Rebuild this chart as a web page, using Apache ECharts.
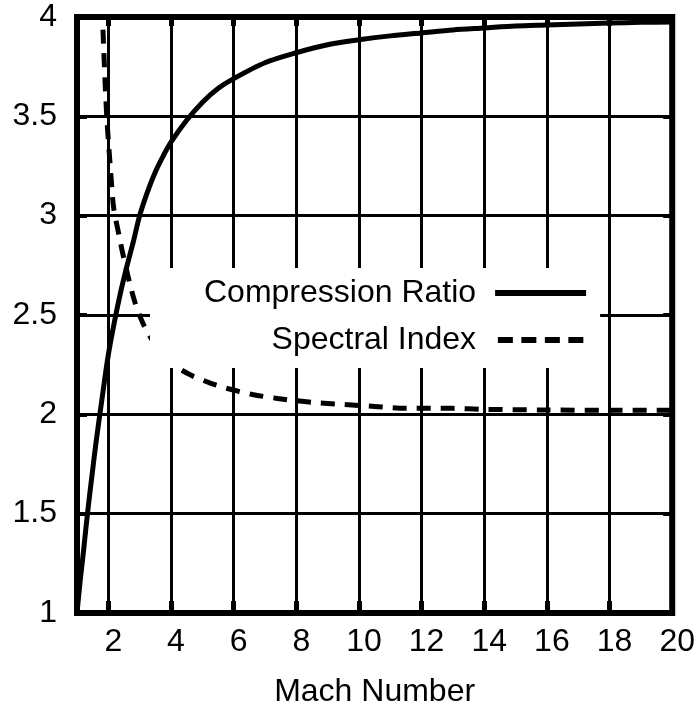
<!DOCTYPE html>
<html>
<head>
<meta charset="utf-8">
<style>
    html, body { margin: 0; padding: 0; background: #fff; }
    #chart { width: 698px; height: 713px; }
</style>
<script src="https://cdn.jsdelivr.net/npm/echarts@6/dist/echarts.min.js"></script>
</head>
<body>
<div id="chart"></div>
<script>
    // Compression ratio (solid)
    var machRatio = [1, 1.1, 1.2, 1.3, 1.4, 1.5, 1.6, 1.8, 2, 2.2, 2.4, 2.6, 2.8, 3, 3.25, 3.5, 3.75, 4, 4.5, 5, 5.5, 6, 7, 8, 9, 10, 11, 12, 13, 14, 15, 16, 17, 18, 19, 20];
    var ratioValues = [1.0, 1.16, 1.30, 1.45, 1.59, 1.72, 1.85, 2.08, 2.30, 2.47, 2.62, 2.75, 2.87, 3.0, 3.12, 3.22, 3.30, 3.37, 3.48, 3.57, 3.64, 3.69, 3.77, 3.82, 3.86, 3.885, 3.905, 3.92, 3.935, 3.945, 3.955, 3.96, 3.965, 3.97, 3.973, 3.975];

    // Spectral index (dashed)
    var machIndex = [1.75, 1.85, 1.95, 2.08, 2.17, 2.33, 2.46, 2.8, 3.1, 3.5, 4, 4.6, 5.3, 5.8, 6.6, 7.4, 8.5, 9.5, 10.5, 11.5, 13, 14, 16, 18, 20];
    var indexValues = [4.3, 3.85, 3.5, 3.21, 3.04, 2.91, 2.81, 2.59, 2.46, 2.35, 2.26, 2.20, 2.155, 2.13, 2.10, 2.08, 2.06, 2.05, 2.04, 2.03, 2.03, 2.025, 2.022, 2.02, 2.02];

    var xTicks = [2, 4, 6, 8, 10, 12, 14, 16, 18, 20];
    var seriesNames = ['Compression Ratio', 'Spectral Index'];

    function pairs(xs, ys) {
        var out = [];
        for (var i = 0; i < xs.length; i++) {
            out.push([xs[i], ys[i]]);
        }
        return out;
    }

    var font = 'Liberation Sans, Arial, sans-serif';
    var labelStyle = { color: '#000', fontSize: 32, fontFamily: font };

    var myChart = echarts.init(document.getElementById('chart'), null, { renderer: 'canvas' });

    myChart.setOption({
        animation: false,
        backgroundColor: '#fff',
        grid: {
            left: 77,
            right: 23,
            top: 17,
            bottom: 95,
            show: true,
            borderColor: '#000',
            borderWidth: 6,
            backgroundColor: 'transparent'
        },
        legend: {
            orient: 'vertical',
            align: 'right',
            left: 150,
            top: 268,
            padding: [9, 14, 12, 54],
            itemGap: 15,
            itemWidth: 91,
            itemHeight: 6,
            backgroundColor: '#fff',
            selectedMode: false,
            textStyle: {
                color: '#000',
                fontSize: 32,
                fontFamily: font,
                padding: [0, 14, 0, 0]
            },
            data: [
                { name: seriesNames[0], icon: 'rect' },
                { name: seriesNames[1], icon: 'path://M0 0h15v6h-15z M23.5 0h15v6h-15z M47 0h15v6h-15z M70.5 0h15v6h-15z' }
            ]
        },
        xAxis: [
            {
                type: 'value',
                min: 1,
                max: 20,
                name: 'Mach Number',
                nameLocation: 'middle',
                nameGap: 63,
                nameTextStyle: labelStyle,
                axisLine: { show: false },
                axisTick: {
                    show: true,
                    inside: true,
                    length: 12,
                    customValues: xTicks,
                    lineStyle: { color: '#000', width: 5 }
                },
                axisLabel: {
                    customValues: xTicks,
                    margin: 13,
                    padding: [0, 0, 0, 10],
                    color: '#000',
                    fontSize: 32,
                    fontFamily: font
                },
                splitLine: { show: true, lineStyle: { color: '#000', width: 3 } }
            },
            {
                type: 'value',
                position: 'top',
                min: 1,
                max: 20,
                axisLine: { show: false },
                axisLabel: { show: false },
                splitLine: { show: false },
                axisTick: {
                    show: true,
                    inside: true,
                    length: 9,
                    customValues: xTicks,
                    lineStyle: { color: '#000', width: 5 }
                }
            }
        ],
        yAxis: [
            {
                type: 'value',
                min: 1,
                max: 4,
                interval: 0.5,
                axisLine: { show: false },
                axisTick: {
                    show: true,
                    inside: true,
                    length: 10,
                    lineStyle: { color: '#000', width: 4 }
                },
                axisLabel: {
                    margin: 20,
                    color: '#000',
                    fontSize: 32,
                    fontFamily: font
                },
                splitLine: { show: true, lineStyle: { color: '#000', width: 3 } }
            },
            {
                type: 'value',
                position: 'right',
                min: 1,
                max: 4,
                interval: 0.5,
                axisLine: { show: false },
                axisLabel: { show: false },
                splitLine: { show: false },
                axisTick: {
                    show: true,
                    inside: true,
                    length: 9,
                    lineStyle: { color: '#000', width: 4 }
                }
            }
        ],
        series: [
            {
                type: 'line',
                name: seriesNames[0],
                xAxisIndex: 0,
                yAxisIndex: 0,
                data: pairs(machRatio, ratioValues),
                symbol: 'none',
                smooth: 0.3,
                color: '#000',
                lineStyle: { color: '#000', width: 5 }
            },
            {
                type: 'line',
                name: seriesNames[1],
                xAxisIndex: 0,
                yAxisIndex: 0,
                data: pairs(machIndex, indexValues),
                symbol: 'none',
                smooth: 0.3,
                color: '#000',
                lineStyle: { color: '#000', width: 5, type: [14, 10] }
            }
        ]
    });
</script>
</body>
</html>
